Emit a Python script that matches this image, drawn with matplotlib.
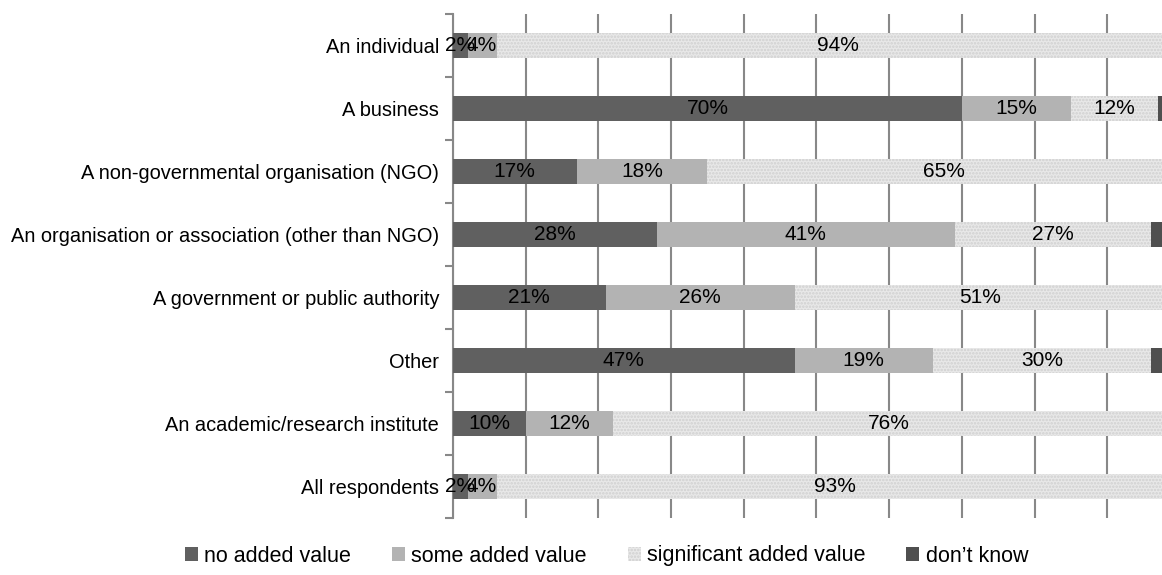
import matplotlib.pyplot as plt
import numpy as np

categories = ['An individual', 'A business', 'A non-governmental organisation (NGO)',
              'An organisation or association (other than NGO)', 'A government or public authority',
              'Other', 'An academic/research institute', 'All respondents']
no_added = [2, 70, 17, 28, 21, 47, 10, 2]
some_added = [4, 15, 18, 41, 26, 19, 12, 4]
significant = [94, 12, 65, 27, 51, 30, 76, 93]
dont_know = [0, 3, 0, 4, 2, 4, 2, 1]
series_names = ['no added value', 'some added value', 'significant added value', 'don\u2019t know']

plt.rcParams['font.family'] = ['Liberation Sans', 'DejaVu Sans']
plt.rcParams['hatch.linewidth'] = 1.2

fig = plt.figure(figsize=(11.62, 5.75), dpi=100)
# axis runs past the right edge, like the cropped original
ax = fig.add_axes([453 / 1162, 1 - 518 / 575, 727 / 1162, 504 / 575])

y = np.arange(len(categories))
h = 0.385
styles = [
    dict(color='#606060'),
    dict(color='#b3b3b3'),
    dict(facecolor='#e8e8e8', edgecolor='#d0d0d0', hatch='.....', linewidth=0),
    dict(color='#4f4f4f'),
]
data = [no_added, some_added, significant, dont_know]
left = np.zeros(len(categories))
handles = []
for i, (vals, st) in enumerate(zip(data, styles)):
    vals = np.array(vals, dtype=float)
    b = ax.barh(y, vals, left=left, height=h, label=series_names[i], zorder=3, **st)
    handles.append(b)
    if i < 3:
        for yy, l, v in zip(y, left, vals):
            ax.text(l + v / 2, yy, f'{int(v)}%', ha='center', va='center',
                    fontsize=15, color='black', zorder=5)
    left += vals

ax.set_xlim(0, 100)
ax.set_ylim(len(categories) - 0.5, -0.5)
ax.set_xticks(np.arange(0, 101, 10))
ax.tick_params(axis='x', length=0, labelbottom=False)
ax.grid(axis='x', color='#888888', linewidth=1.5, zorder=0)

ax.set_yticks(y)
ax.set_yticklabels(categories, fontsize=14.4)
ax.set_yticks(np.arange(-0.5, len(categories)), minor=True)
ax.tick_params(axis='y', which='major', length=0, pad=10)
ax.tick_params(axis='y', which='minor', length=6, width=1.5, color='#888888')

for s in ['top', 'right', 'bottom']:
    ax.spines[s].set_visible(False)
ax.spines['left'].set_color('#888888')
ax.spines['left'].set_linewidth(1.5)

fig.legend(handles=handles, loc='center', bbox_to_anchor=(0.522, 1 - 556 / 575), ncol=4,
           frameon=False, fontsize=15.5, handlelength=0.6, handleheight=0.6,
           handletextpad=0.3, columnspacing=1.9)

fig.savefig('out.png', dpi=100)
